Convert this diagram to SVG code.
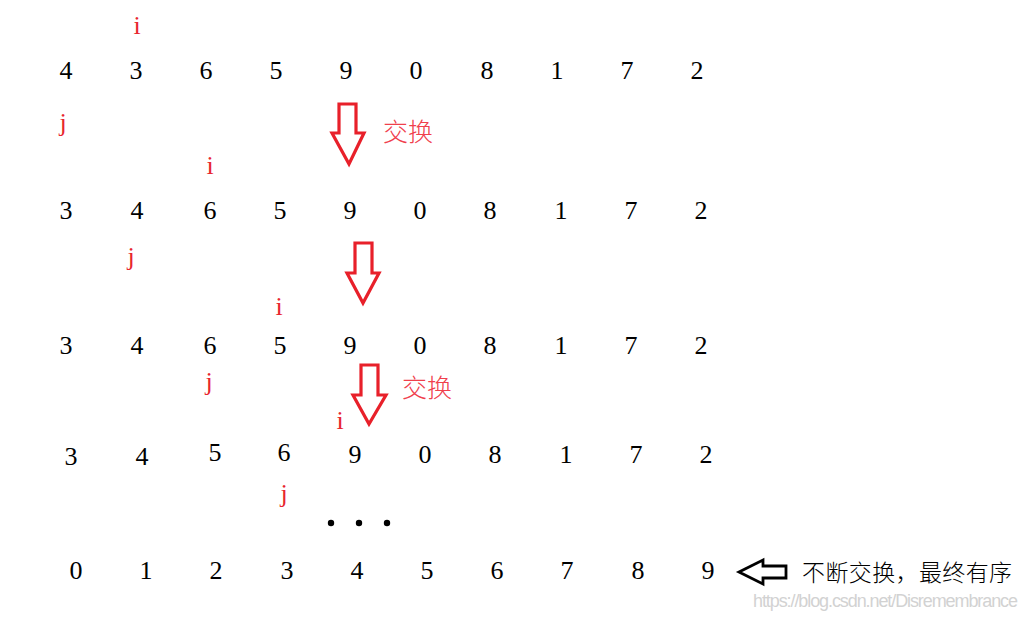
<svg xmlns="http://www.w3.org/2000/svg" width="1029" height="620" viewBox="0 0 1029 620">
<style>
.d{font-family:"Liberation Serif","Noto Sans CJK SC",serif;font-size:26px;fill:#000;text-anchor:middle}
.p{font-family:"Liberation Serif",serif;font-size:26px;fill:#e8262e;text-anchor:middle}
.cn{font-family:"Noto Sans CJK SC",sans-serif;font-size:25px;fill:#f0404c;font-weight:300}
.ra{fill:none;stroke:#e8202a;stroke-width:3.2;stroke-linejoin:miter}
.ba{fill:#fff;stroke:#000;stroke-width:2.8;stroke-linejoin:miter}
</style>
<rect width="1029" height="620" fill="#fff"/>
<g id="row1">
<text class="d" x="66" y="79">4</text><text class="d" x="136" y="79">3</text><text class="d" x="206" y="79">6</text><text class="d" x="276" y="79">5</text><text class="d" x="346" y="79">9</text><text class="d" x="416" y="79">0</text><text class="d" x="487" y="79">8</text><text class="d" x="557" y="79">1</text><text class="d" x="627" y="79">7</text><text class="d" x="697" y="79">2</text>
<text class="p" x="137" y="34">i</text><text class="p" x="63" y="131">j</text>
</g>
<g id="row2">
<text class="d" x="66" y="219">3</text><text class="d" x="137" y="219">4</text><text class="d" x="210" y="219">6</text><text class="d" x="280" y="219">5</text><text class="d" x="350" y="219">9</text><text class="d" x="420" y="219">0</text><text class="d" x="490" y="219">8</text><text class="d" x="561" y="219">1</text><text class="d" x="631" y="219">7</text><text class="d" x="701" y="219">2</text>
<text class="p" x="210" y="174">i</text><text class="p" x="131" y="265">j</text>
</g>
<g id="row3">
<text class="d" x="66" y="354">3</text><text class="d" x="137" y="354">4</text><text class="d" x="210" y="354">6</text><text class="d" x="280" y="354">5</text><text class="d" x="350" y="354">9</text><text class="d" x="420" y="354">0</text><text class="d" x="490" y="354">8</text><text class="d" x="561" y="354">1</text><text class="d" x="631" y="354">7</text><text class="d" x="701" y="354">2</text>
<text class="p" x="279" y="315">i</text><text class="p" x="209" y="390">j</text>
</g>
<g id="row4">
<text class="d" x="71" y="465">3</text><text class="d" x="142" y="465">4</text><text class="d" x="215" y="461">5</text><text class="d" x="284" y="461">6</text><text class="d" x="355" y="463">9</text><text class="d" x="425" y="463">0</text><text class="d" x="495" y="463">8</text><text class="d" x="566" y="463">1</text><text class="d" x="636" y="463">7</text><text class="d" x="706" y="463">2</text>
<text class="p" x="340" y="429">i</text><text class="p" x="284" y="502">j</text>
</g>
<g id="dots" fill="#000">
<circle cx="331" cy="523" r="3.2"/><circle cx="359" cy="523" r="3.2"/><circle cx="387" cy="523" r="3.2"/>
</g>
<g id="row5">
<text class="d" x="76" y="579">0</text><text class="d" x="146" y="579">1</text><text class="d" x="216" y="579">2</text><text class="d" x="287" y="579">3</text><text class="d" x="357" y="579">4</text><text class="d" x="427" y="579">5</text><text class="d" x="497" y="579">6</text><text class="d" x="567" y="579">7</text><text class="d" x="638" y="579">8</text><text class="d" x="708" y="579">9</text>
</g>
<g id="connectors">
<path class="ra" d="M339,104 H356 V133 H364 L349,164 L332,133 H339 Z"/>
<path class="ra" d="M355,243 H372 V273 H379 L363,303 L347,273 H355 Z"/>
<path class="ra" d="M361,365 H378 V395 H386 L369,424 L353,395 H361 Z"/>
<path class="ba" d="M739,572 L763,560 V566 H786 V578 H763 V584 Z"/>
</g>
<g id="labels">
<text class="cn" x="383" y="141">交换</text>
<text class="cn" x="402" y="397">交换</text>
<text x="802" y="581" font-family="Noto Sans CJK SC, sans-serif" font-size="23" font-weight="300" fill="#000" textLength="210">不断交换，最终有序</text>
<text x="753" y="607" font-family="Liberation Sans, sans-serif" font-size="18" fill="#d2d2d2" textLength="265">https://blog.csdn.net/Disremembrance</text>
</g>
</svg>
